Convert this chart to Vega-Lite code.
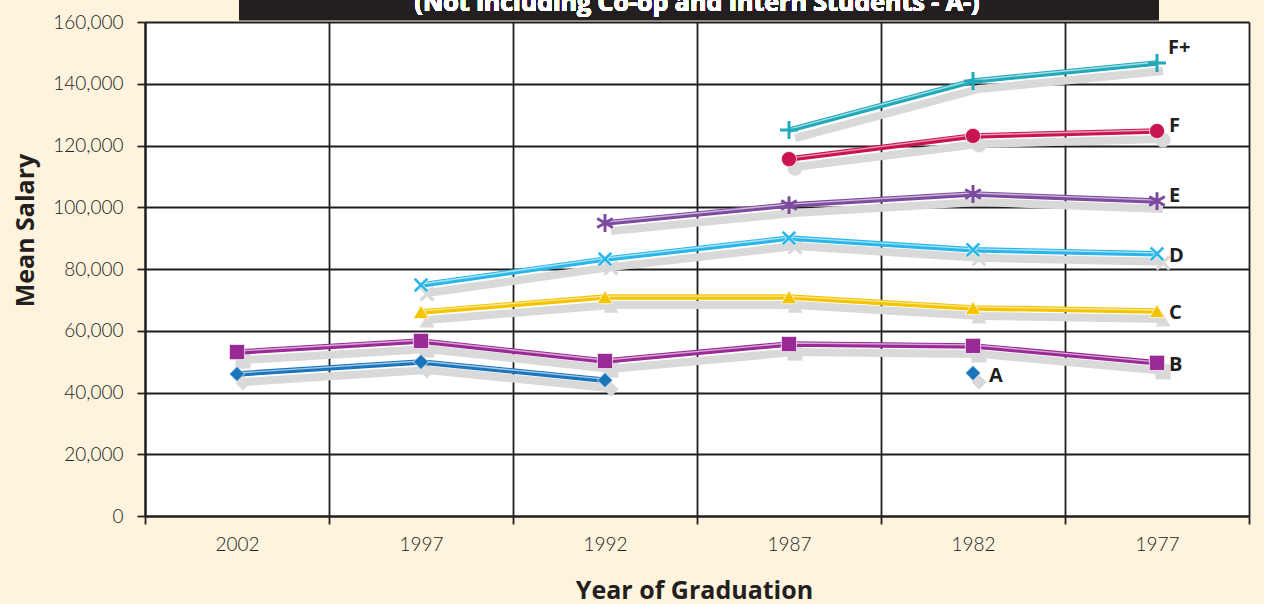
{
  "$schema": "https://vega.github.io/schema/vega-lite/v6.json",
  "width": 1104,
  "height": 494,
  "autosize": {"type": "none"},
  "padding": {"left": 145, "top": 22, "right": 15, "bottom": 88},
  "background": "#fef3dd",
  "config": {"view": {"fill": "white", "stroke": null}},
  "data": {
    "values": [
      {"series": "A", "seg": "A1", "year": "2002", "salary": 46000},
      {"series": "A", "seg": "A1", "year": "1997", "salary": 49900},
      {"series": "A", "seg": "A1", "year": "1992", "salary": 44000},
      {"series": "A", "seg": "A2", "year": "1982", "salary": 46300},
      {"series": "B", "seg": "B", "year": "2002", "salary": 53100},
      {"series": "B", "seg": "B", "year": "1997", "salary": 56700},
      {"series": "B", "seg": "B", "year": "1992", "salary": 50200},
      {"series": "B", "seg": "B", "year": "1987", "salary": 55700},
      {"series": "B", "seg": "B", "year": "1982", "salary": 55100},
      {"series": "B", "seg": "B", "year": "1977", "salary": 49600},
      {"series": "C", "seg": "C", "year": "1997", "salary": 66100},
      {"series": "C", "seg": "C", "year": "1992", "salary": 70900},
      {"series": "C", "seg": "C", "year": "1987", "salary": 70900},
      {"series": "C", "seg": "C", "year": "1982", "salary": 67400},
      {"series": "C", "seg": "C", "year": "1977", "salary": 66400},
      {"series": "D", "seg": "D", "year": "1997", "salary": 74800},
      {"series": "D", "seg": "D", "year": "1992", "salary": 83200},
      {"series": "D", "seg": "D", "year": "1987", "salary": 90000},
      {"series": "D", "seg": "D", "year": "1982", "salary": 86200},
      {"series": "D", "seg": "D", "year": "1977", "salary": 84900},
      {"series": "E", "seg": "E", "year": "1992", "salary": 94900},
      {"series": "E", "seg": "E", "year": "1987", "salary": 100700},
      {"series": "E", "seg": "E", "year": "1982", "salary": 104300},
      {"series": "E", "seg": "E", "year": "1977", "salary": 102000},
      {"series": "F", "seg": "F", "year": "1987", "salary": 115600},
      {"series": "F", "seg": "F", "year": "1982", "salary": 123100},
      {"series": "F", "seg": "F", "year": "1977", "salary": 124700},
      {"series": "F+", "seg": "F+", "year": "1987", "salary": 125000},
      {"series": "F+", "seg": "F+", "year": "1982", "salary": 140900},
      {"series": "F+", "seg": "F+", "year": "1977", "salary": 146700}
    ]
  },
  "encoding": {
    "x": {
      "field": "year", "type": "ordinal",
      "sort": ["2002", "1997", "1992", "1987", "1982", "1977"],
      "bandPosition": 0.5,
      "scale": {"type": "band", "paddingInner": 0, "paddingOuter": 0},
      "axis": {
        "title": "Year of Graduation", "titleFont": "Open Sans", "titleFontSize": 25, "titleFontWeight": "bold", "titleColor": "#231f20",
        "titleY": 74, "titleBaseline": "middle", "titleX": 549,
        "labelAngle": 0, "labelFont": "Lato", "labelFontWeight": 300, "labelFontSize": 19, "labelColor": "#222222", "labelPadding": 11,
        "tickBand": "extent", "tickSize": 8, "tickColor": "#222222", "tickWidth": 1.8,
        "grid": true, "gridColor": "#1e1e1e", "gridWidth": 1.8, "gridOpacity": 1,
        "domainColor": "#1e1e1e", "domainWidth": 2.2
      }
    },
    "y": {
      "field": "salary", "type": "quantitative",
      "scale": {"domain": [0, 160000], "nice": false},
      "axis": {
        "values": [0, 20000, 40000, 60000, 80000, 100000, 120000, 140000, 160000],
        "format": ",.0f",
        "title": "Mean Salary", "titleFont": "Open Sans", "titleFontSize": 25, "titleFontWeight": "bold", "titleColor": "#231f20",
        "titleX": -120, "titleY": 208, "titleAlign": "center", "titleBaseline": "middle",
        "labelFont": "Lato", "labelFontWeight": 300, "labelFontSize": 19, "labelColor": "#222222", "labelPadding": 14,
        "tickSize": 8, "tickColor": "#222222", "tickWidth": 1.8,
        "grid": true, "gridColor": "#1e1e1e", "gridWidth": 1.8, "gridOpacity": 1,
        "domainColor": "#1e1e1e", "domainWidth": 2.2
      }
    }
  },
  "layer": [
    {
      "mark": {"type": "line", "stroke": "#d9d9d9", "strokeWidth": 8, "xOffset": 6, "yOffset": 8},
      "encoding": {"detail": {"field": "seg"}}
    },
    {
      "mark": {"type": "point", "filled": true, "color": "#d9d9d9", "size": 230, "xOffset": 6, "yOffset": 9, "opacity": 1},
      "encoding": {
        "shape": {"field": "series", "type": "nominal", "legend": null,
          "scale": {"domain": ["A", "B", "C", "D", "E", "F", "F+"],
            "range": ["diamond", "square", "triangle-up", "M-0.7,-1L0,-0.3L0.7,-1L1,-0.7L0.3,0L1,0.7L0.7,1L0,0.3L-0.7,1L-1,0.7L-0.3,0L-1,-0.7Z", "M0,-1L0,1M-0.87,-0.5L0.87,0.5M-0.87,0.5L0.87,-0.5", "circle", "M0,-1L0,1M-1,0L1,0"]}}
      }
    },
    {
      "mark": {"type": "line", "strokeWidth": 5.5},
      "encoding": {
        "detail": {"field": "seg"},
        "color": {"field": "series", "type": "nominal", "legend": null,
          "scale": {"domain": ["A", "B", "C", "D", "E", "F", "F+"],
            "range": ["#1a75bb", "#9a2b96", "#f5c400", "#2bb6e9", "#7d4c9f", "#c8144f", "#22a9b9"]}}
      }
    },
    {
      "mark": {"type": "line", "stroke": "white", "strokeWidth": 1.4, "opacity": 0.6, "yOffset": -1},
      "encoding": {"detail": {"field": "seg"}}
    },
    {
      "transform": [{"filter": "datum.series != 'E' && datum.series != 'F+'"}],
      "mark": {"type": "point", "filled": true, "size": 230, "opacity": 1, "stroke": "white", "strokeWidth": 1, "strokeOpacity": 0.7},
      "encoding": {
        "shape": {"field": "series", "type": "nominal", "legend": null},
        "fill": {"field": "series", "type": "nominal", "legend": null,
          "scale": {"domain": ["A", "B", "C", "D", "E", "F", "F+"],
            "range": ["#1a75bb", "#9a2b96", "#f5c400", "#2bb6e9", "#7d4c9f", "#c8144f", "#22a9b9"]}}
      }
    },
    {
      "transform": [{"filter": "datum.series == 'E' || datum.series == 'F+'"}],
      "mark": {"type": "point", "filled": false, "size": 320, "strokeWidth": 3, "opacity": 1},
      "encoding": {
        "shape": {"field": "series", "type": "nominal", "legend": null},
        "color": {"field": "series", "type": "nominal", "legend": null}
      }
    },
    {
      "transform": [{"filter": "datum.series == 'F+' && datum.year == '1977'"}],
      "mark": {"type": "text", "align": "left", "baseline": "middle", "dx": 11, "dy": -15, "font": "Open Sans", "fontWeight": "bold", "fontSize": 20, "color": "#231f20"},
      "encoding": {"text": {"field": "series"}}
    },
    {
      "transform": [{"filter": "(datum.series == 'F' || datum.series == 'E') && datum.year == '1977'"}],
      "mark": {"type": "text", "align": "left", "baseline": "middle", "dx": 12, "dy": -5, "font": "Open Sans", "fontWeight": "bold", "fontSize": 20, "color": "#231f20"},
      "encoding": {"text": {"field": "series"}}
    },
    {
      "transform": [{"filter": "(datum.series == 'D' || datum.series == 'C' || datum.series == 'B') && datum.year == '1977'"}],
      "mark": {"type": "text", "align": "left", "baseline": "middle", "dx": 12, "dy": 2, "font": "Open Sans", "fontWeight": "bold", "fontSize": 20, "color": "#231f20"},
      "encoding": {"text": {"field": "series"}}
    },
    {
      "transform": [{"filter": "datum.seg == 'A2'"}],
      "mark": {"type": "text", "align": "left", "baseline": "middle", "dx": 16, "dy": 3, "font": "Open Sans", "fontWeight": "bold", "fontSize": 20, "color": "#231f20"},
      "encoding": {"text": {"field": "series"}}
    },
    {
      "transform": [{"filter": "datum.series == 'B' && (datum.year == '2002' || datum.year == '1977')"}],
      "mark": {"type": "line", "stroke": "#231f20", "strokeWidth": 23, "strokeCap": "butt", "xOffset": 2},
      "encoding": {"y": {"datum": 164200}}
    },
    {
      "mark": {"type": "text", "text": "(Not including Co-op and Intern Students - A-)", "align": "center", "baseline": "alphabetic", "font": "Open Sans", "fontWeight": "bold", "fontSize": 25, "color": "white"},
      "encoding": {
        "x": {"datum": "1987", "bandPosition": 0},
        "y": {"datum": 163700}
      }
    }
  ]
}
